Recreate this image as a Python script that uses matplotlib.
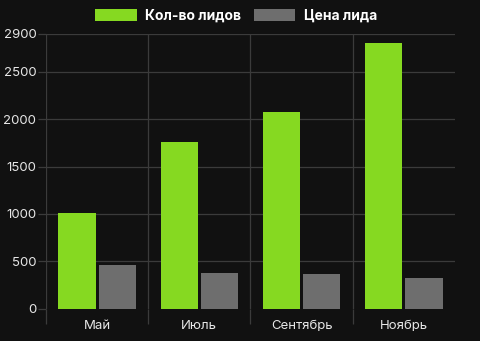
import matplotlib
matplotlib.use("Agg")
import matplotlib.pyplot as plt
import numpy as np

months = ["Май", "Июль", "Сентябрь", "Ноябрь"]
leads = [1010, 1760, 2080, 2810]
lead_price = [465, 380, 365, 320]
y_ticks = [0, 500, 1000, 1500, 2000, 2500, 2900]

bg = "#111111"
grid_col = "#3b3b3b"
green = "#86d921"
gray = "#6e6e6e"
text_col = "#e6e6e6"

plt.rcParams["font.family"] = ["Inter", "DejaVu Sans"]

fig = plt.figure(figsize=(4.81, 3.41), dpi=100, facecolor=bg)
ax = fig.add_axes([46 / 481, 32.3 / 341, 409 / 481, 274.7 / 341], facecolor=bg)

x = np.arange(len(months))
w = 0.365
gap = 0.015
ax.bar(x - w / 2 - gap, leads, width=w, color=green, label="Кол-во лидов", zorder=3)
ax.bar(x + w / 2 + gap, lead_price, width=w, color=gray, label="Цена лида", zorder=3)

ax.set_xlim(-0.5, len(months) - 0.5)
ax.set_ylim(0, 2900)

# horizontal grid (the zero line is not drawn)
for v in y_ticks[1:]:
    ax.axhline(v, color=grid_col, lw=0.9, zorder=1)
# vertical separators on the left of each category
for b in x - 0.5:
    ax.axvline(b, color=grid_col, lw=0.9, zorder=1)

ax.set_yticks(y_ticks)
ax.set_xticks(x)
ax.set_xticklabels(months)
ax.set_xticks(x - 0.5, minor=True)
ax.tick_params(axis="y", colors=grid_col, labelcolor=text_col, labelsize=9.5,
               length=6, width=0.9, pad=1)
ax.tick_params(axis="x", which="major", length=0, labelcolor=text_col,
               labelsize=9.5, pad=8)
ax.tick_params(axis="x", which="minor", length=11, width=0.9, color=grid_col)
for s in ax.spines.values():
    s.set_visible(False)

leg = fig.legend(loc="center", bbox_to_anchor=(236 / 481, 1 - 16 / 341), ncol=2,
                 frameon=False, handlelength=3.0, handleheight=1.0,
                 columnspacing=0.9, handletextpad=0.6,
                 prop={"weight": "bold", "size": 10})
for t in leg.get_texts():
    t.set_color("white")

fig.savefig("out.png", dpi=100, facecolor=bg)
